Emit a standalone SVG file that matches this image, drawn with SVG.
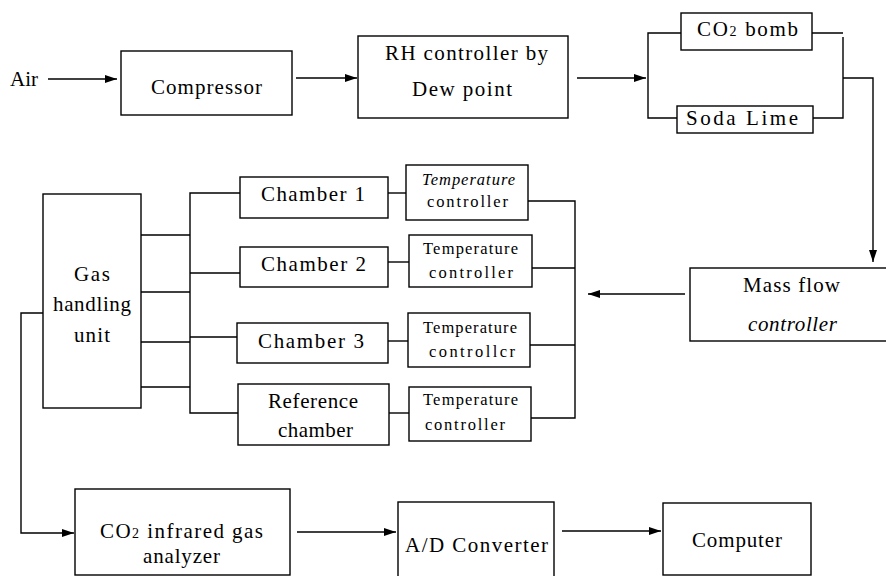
<svg xmlns="http://www.w3.org/2000/svg" width="886" height="576" viewBox="0 0 886 576" font-family="'Liberation Serif', 'DejaVu Serif', serif">
<defs>
<marker id="ah" viewBox="0 0 12 8" refX="12" refY="4" markerWidth="12" markerHeight="8" markerUnits="userSpaceOnUse" orient="auto">
<path d="M0,0 L12,4 L0,8 Z" fill="#000"/>
</marker>
<style>
rect{fill:#fff;stroke:#000;stroke-width:1.4}
.c path,.c line{fill:none;stroke:#000;stroke-width:1.4}
.a{marker-end:url(#ah)}
text{font-family:'Liberation Serif','DejaVu Serif',serif;font-size:21px;fill:#000}
.s{font-size:16.5px}
.i{font-style:italic}
</style>
</defs>
<rect x="-10" y="-10" width="906" height="596" style="fill:#fff;stroke:none"/>

<g class="c" id="connectors">
<line class="a" x1="48" y1="79" x2="117" y2="79"/>
<line class="a" x1="296" y1="78" x2="357" y2="78"/>
<line class="a" x1="577" y1="78" x2="646" y2="78"/>
<path d="M681,33 H648 V118 H677"/>
<path d="M812,33 H843 M843,37 V118 H813"/>
<path class="a" d="M843,78 H873 V262"/>
<line class="a" x1="685" y1="294" x2="588" y2="294"/>
<path d="M528,201 H575 V418 H531 M532,268 H575 M530,345 H575"/>
<line x1="388" y1="193" x2="406" y2="193"/>
<line x1="388" y1="262" x2="409" y2="262"/>
<line x1="388" y1="341" x2="408" y2="341"/>
<line x1="389" y1="413" x2="409" y2="413"/>
<path d="M240,193 H190 V413 H238 M190,273 H240 M190,337 H237"/>
<path d="M141,235 H190 M141,292 H190 M141,342 H190 M141,387 H190"/>
<path class="a" d="M43,313 H21 V533 H74"/>
<line class="a" x1="297" y1="532" x2="396" y2="532"/>
<line class="a" x1="562" y1="531" x2="661" y2="531"/>
</g>

<g id="air"><text x="10" y="86" textLength="28" lengthAdjust="spacingAndGlyphs">Air</text></g>

<g id="compressor">
<rect x="121" y="51" width="171" height="64"/>
<text x="151" y="94" textLength="111" lengthAdjust="spacing">Compressor</text>
</g>

<g id="rh">
<rect x="358" y="36" width="210" height="82"/>
<text x="385" y="60" textLength="163" lengthAdjust="spacing">RH controller by</text>
<text x="412" y="96" textLength="100" lengthAdjust="spacing">Dew point</text>
</g>

<g id="co2bomb">
<rect x="681" y="13" width="131" height="37"/>
<text x="697" y="36" textLength="101" lengthAdjust="spacing">CO<tspan font-size="14">2</tspan> bomb</text>
</g>

<g id="sodalime">
<rect x="677" y="106" width="136" height="27"/>
<text x="686" y="125" textLength="112" lengthAdjust="spacing">Soda Lime</text>
</g>

<g id="massflow">
<rect x="690" y="268" width="210" height="73"/>
<text x="743" y="292" textLength="97" lengthAdjust="spacing">Mass flow</text>
<text class="i" x="748" y="331" textLength="89" lengthAdjust="spacing">controller</text>
</g>

<g id="gashandling">
<rect x="43" y="194" width="98" height="214"/>
<text x="74" y="281" textLength="36" lengthAdjust="spacing">Gas</text>
<text x="53" y="311" textLength="78" lengthAdjust="spacing">handling</text>
<text x="74" y="342" textLength="36" lengthAdjust="spacing">unit</text>
</g>

<g id="chamber1">
<rect x="240" y="177" width="148" height="41"/>
<text x="261" y="201" textLength="104" lengthAdjust="spacing">Chamber 1</text>
</g>
<g id="chamber2">
<rect x="240" y="247" width="148" height="40"/>
<text x="261" y="271" textLength="105" lengthAdjust="spacing">Chamber 2</text>
</g>
<g id="chamber3">
<rect x="237" y="323" width="151" height="40"/>
<text x="258" y="348" textLength="106" lengthAdjust="spacing">Chamber 3</text>
</g>
<g id="refchamber">
<rect x="238" y="384" width="151" height="61"/>
<text x="268" y="408" textLength="90" lengthAdjust="spacing">Reference</text>
<text x="278" y="437" textLength="75" lengthAdjust="spacing">chamber</text>
</g>

<g id="tc1">
<rect x="406" y="165" width="122" height="55"/>
<text class="s i" x="422" y="185" textLength="93" lengthAdjust="spacing">Temperature</text>
<text class="s" x="427" y="207" textLength="81" lengthAdjust="spacing">controller</text>
</g>
<g id="tc2">
<rect x="409" y="235" width="123" height="52"/>
<text class="s" x="423" y="254" textLength="95" lengthAdjust="spacing">Temperature</text>
<text class="s" x="429" y="278" textLength="84" lengthAdjust="spacing">controller</text>
</g>
<g id="tc3">
<rect x="408" y="313" width="122" height="54"/>
<text class="s" x="423" y="333" textLength="94" lengthAdjust="spacing">Temperature</text>
<text class="s" x="429" y="357" textLength="86" lengthAdjust="spacing">controllcr</text>
</g>
<g id="tc4">
<rect x="409" y="387" width="122" height="54"/>
<text class="s" x="423" y="405" textLength="95" lengthAdjust="spacing">Temperature</text>
<text class="s" x="425" y="430" textLength="80" lengthAdjust="spacing">controller</text>
</g>

<g id="analyzer">
<rect x="75" y="489" width="215" height="86"/>
<text x="100" y="538" textLength="163" lengthAdjust="spacing">CO<tspan font-size="14">2</tspan> infrared gas</text>
<text x="143" y="563" textLength="77" lengthAdjust="spacing">analyzer</text>
</g>

<g id="adconverter">
<rect x="398" y="502" width="156" height="80"/>
<text x="405" y="552" textLength="143" lengthAdjust="spacing">A/D Converter</text>
</g>

<g id="computer">
<rect x="663" y="503" width="148" height="72"/>
<text x="692" y="547" textLength="90" lengthAdjust="spacing">Computer</text>
</g>
</svg>
